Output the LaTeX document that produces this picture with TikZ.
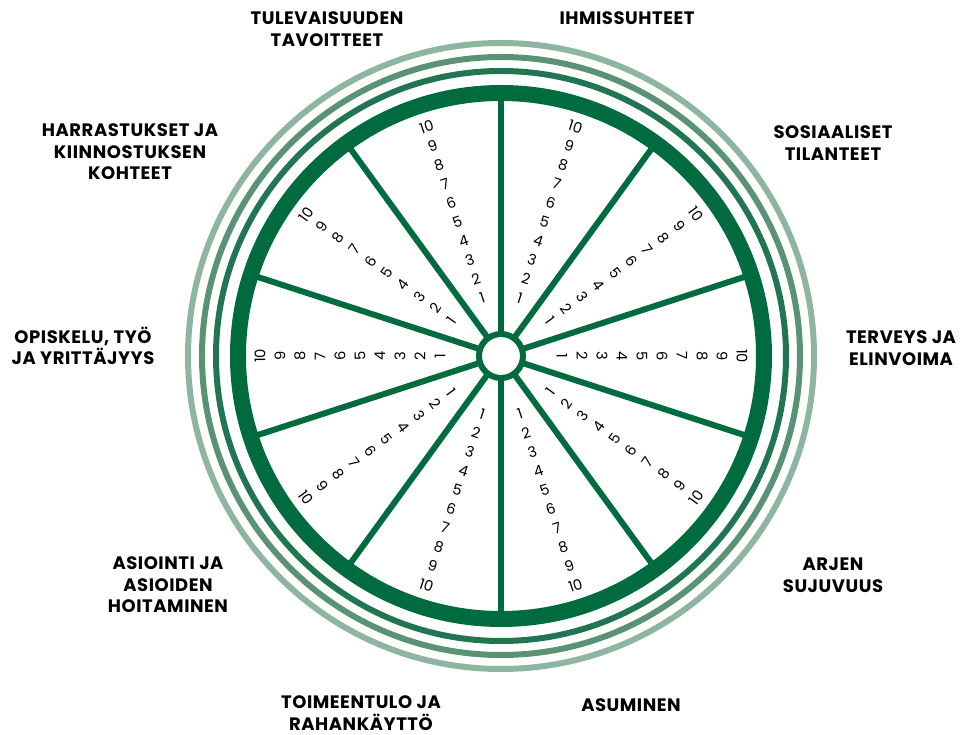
\documentclass[tikz,border=0pt]{standalone}
\usepackage{fontspec}
\setmainfont{Poppins}
\usepackage{xcolor}
\usepackage{tikz}
\definecolor{wheelgreen}{HTML}{006B3F}
\definecolor{ringone}{HTML}{217550}
\definecolor{ringtwo}{HTML}{5A9276}
\definecolor{ringthree}{HTML}{8DB59F}

\begin{document}
\begin{tikzpicture}[x=0.75pt, y=0.75pt,
  spoke/.style={draw=wheelgreen, line width=4.5pt},
  rim/.style={draw=wheelgreen, line width=12pt},
  ring/.style={line width=4.5pt},
  hub/.style={circle, draw=wheelgreen, fill=white, line width=4.5pt, minimum size=33pt, inner sep=0pt},
  area/.style={font=\fontsize{13.5}{16.2}\selectfont\bfseries\addfontfeatures{LetterSpace=3}, align=center, text=black},
  num/.style={font=\fontsize{11}{13}\selectfont, inner sep=0pt}]
  \useasboundingbox (-501,-379) rectangle (463,356);

  \draw[ring, ringthree] (0,0) circle (313);
  \draw[ring, ringtwo] (0,0) circle (299);
  \draw[ring, ringone] (0,0) circle (285);
  \draw[rim] (0,0) circle (263);

  \foreach \a in {90,54,...,-234}
    \draw[spoke] (\a:20) -- (\a:263);
  \node[hub] (hub) at (0,0) {};

  \foreach \t/\r [count=\s] in {72/-18, 36/-54, 0/-90, -36/54, -72/18, -108/-18, -144/-54, 180/90, 144/54, 108/18}
    \foreach \k in {1,...,10}
      \node[num, rotate=\r] (n\s-\k) at (\t:{61+20*(\k-1)}) {\k};

  \node[area] (goals) at (-174,327) {TULEVAISUUDEN\\TAVOITTEET};
  \node[area] (relations) at (126,338) {IHMISSUHTEET};
  \node[area] (social) at (332,213) {SOSIAALISET\\TILANTEET};
  \node[area] (hobbies) at (-371,204) {HARRASTUKSET JA\\KIINNOSTUKSEN\\KOHTEET};
  \node[area] (study) at (-418,10) {OPISKELU, TYÖ\\JA YRITTÄJYYS};
  \node[area] (health) at (400,8) {TERVEYS JA\\ELINVOIMA};
  \node[area] (errands) at (-333,-229) {ASIOINTI JA\\ASIOIDEN\\HOITAMINEN};
  \node[area] (daily) at (332,-219) {ARJEN\\SUJUVUUS};
  \node[area] (income) at (-140,-357) {TOIMEENTULO JA\\RAHANKÄYTTÖ};
  \node[area] (housing) at (130,-349) {ASUMINEN};
\end{tikzpicture}
\end{document}
